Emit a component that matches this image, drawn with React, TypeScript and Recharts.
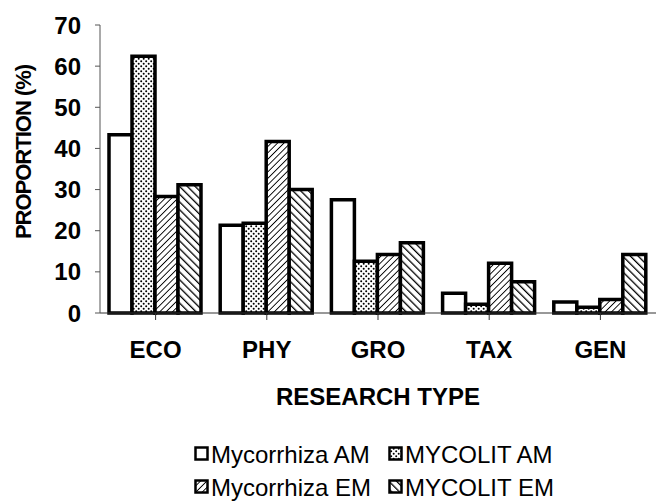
import { BarChart, Bar, XAxis, YAxis, Label } from 'recharts';

const categories = ['ECO', 'PHY', 'GRO', 'TAX', 'GEN'];
const mycorrhizaAM = [43.3, 21.3, 27.5, 4.8, 2.7];
const mycolitAM = [62.4, 21.8, 12.6, 2.1, 1.4];
const mycorrhizaEM = [28.3, 41.7, 14.2, 12.1, 3.3];
const mycolitEM = [31.2, 30.0, 17.1, 7.6, 14.2];
const yTicks = [0, 10, 20, 30, 40, 50, 60, 70];

const series = [
  { key: 'mycAM', name: 'Mycorrhiza AM', fill: '#ffffff' },
  { key: 'litAM', name: 'MYCOLIT AM', fill: 'url(#dots)' },
  { key: 'mycEM', name: 'Mycorrhiza EM', fill: 'url(#fwd)' },
  { key: 'litEM', name: 'MYCOLIT EM', fill: 'url(#back)' },
];

const data = categories.map((c, i) => ({
  cat: c,
  mycAM: mycorrhizaAM[i],
  litAM: mycolitAM[i],
  mycEM: mycorrhizaEM[i],
  litEM: mycolitEM[i],
}));

const FONT = '"Liberation Sans", Arial, sans-serif';

// hatch / dot fills, prefix lets the legend svg have its own copies
function Patterns({ prefix = '' }: { prefix?: string }) {
  return (
    <defs>
      <pattern id={prefix + 'dots'} width="5" height="5" patternUnits="userSpaceOnUse">
        <rect width="5" height="5" fill="#fff" />
        <circle cx="1.2" cy="1.2" r="1" fill="#000" />
        <circle cx="3.7" cy="3.7" r="1" fill="#000" />
      </pattern>
      <pattern id={prefix + 'fwd'} width="4.5" height="4.5" patternUnits="userSpaceOnUse" patternTransform="rotate(45)">
        <rect width="4.5" height="4.5" fill="#fff" />
        <line x1="0" y1="0" x2="0" y2="4.5" stroke="#000" strokeWidth="1.8" />
      </pattern>
      <pattern id={prefix + 'back'} width="5.5" height="5.5" patternUnits="userSpaceOnUse" patternTransform="rotate(-45)">
        <rect width="5.5" height="5.5" fill="#fff" />
        <line x1="0" y1="0" x2="0" y2="5.5" stroke="#000" strokeWidth="2.6" />
      </pattern>
    </defs>
  );
}

function ChartLegend() {
  const cols = [194, 388];
  const rows = [454, 487];
  return (
    <svg width={656} height={502} style={{ position: 'absolute', left: 0, top: 0, pointerEvents: 'none' }}>
      <Patterns prefix="lg-" />
      {series.map((s, i) => {
        const x = cols[i % 2];
        const y = rows[Math.floor(i / 2)];
        const fill = s.fill.startsWith('url') ? s.fill.replace('#', '#lg-') : s.fill;
        return (
          <g key={s.key}>
            <rect x={x + 1.5} y={y - 6.5} width={12} height={12} fill={fill} stroke="#000" strokeWidth={2.5} />
            <text x={x + 17} y={y + 8.5} fontFamily={FONT} fontSize={24} fill="#000">
              {s.name}
            </text>
          </g>
        );
      })}
    </svg>
  );
}

export default function App() {
  return (
    <div style={{ position: 'absolute', left: 0, top: 0, width: 656, height: 502, background: '#fff' }}>
      <BarChart
        width={656}
        height={502}
        data={data}
        margin={{ top: 25, right: 0, left: 0, bottom: 89 }}
        barCategoryGap={9}
        barGap={0}
      >
        <Patterns />
        <XAxis
          dataKey="cat"
          height={100}
          axisLine={{ stroke: '#333', strokeWidth: 1 }}
          tickLine={{ stroke: '#333' }}
          tickSize={7}
          tickMargin={21}
          tick={{ fontFamily: FONT, fontSize: 24, fontWeight: 'bold', fill: '#000' }}
        >
          <Label
            content={({ viewBox }: any) => (
              <text
                x={viewBox.x + viewBox.width / 2}
                y={405}
                textAnchor="middle"
                fontFamily={FONT}
                fontSize={24}
                fontWeight="bold"
                fill="#000"
              >
                RESEARCH TYPE
              </text>
            )}
          />
        </XAxis>
        <YAxis
          width={100}
          domain={[0, 70]}
          ticks={yTicks}
          interval={0}
          axisLine={{ stroke: '#555', strokeWidth: 1 }}
          tickLine={{ stroke: '#555' }}
          tickSize={5}
          tickMargin={14}
          tick={{ fontFamily: FONT, fontSize: 24, fontWeight: 'bold', fill: '#000' }}
        >
          <Label
            content={() => (
              <text
                x={0}
                y={0}
                transform="translate(23,152) rotate(-90)"
                textAnchor="middle"
                dominantBaseline="central"
                fontFamily={FONT}
                fontSize={22}
                fontWeight="bold"
                letterSpacing={-1}
                fill="#000"
              >
                PROPORTION (%)
              </text>
            )}
          />
        </YAxis>
        {series.map((s) => (
          <Bar
            key={s.key}
            dataKey={s.key}
            name={s.name}
            fill={s.fill}
            stroke="#000"
            strokeWidth={3.5}
            isAnimationActive={false}
          />
        ))}
      </BarChart>
      <ChartLegend />
    </div>
  );
}
